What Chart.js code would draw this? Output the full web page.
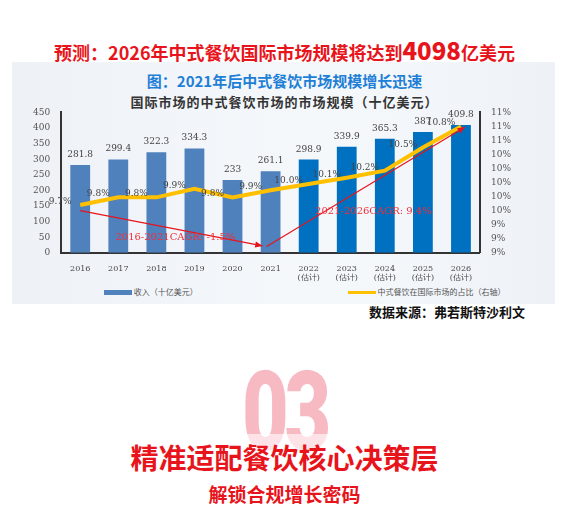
<!DOCTYPE html>
<html><head><meta charset="utf-8">
<script src="https://cdn.jsdelivr.net/npm/chart.js@4"></script>
<style>
body{margin:0;width:569px;height:530px;background:#fff;position:relative;overflow:hidden;font-family:"Noto Sans CJK SC",sans-serif}
.abs{position:absolute}
#panel{left:12px;top:62px;width:543px;height:242px;background:linear-gradient(90deg,#eef2f7,#f5f8fb 60%,#eef2f7)}
#t1{left:0;width:569px;top:36px;text-align:center;color:#e8141b;font-weight:bold;font-size:18px;line-height:28px}
#t1 b{font-size:24px}
#t2{left:0;width:569px;top:70px;text-align:center;color:#1e7fd6;font-weight:bold;font-size:15px}
#t3{left:0;width:569px;top:92px;text-align:center;color:#333;font-weight:bold;font-size:13px;letter-spacing:1px}
#src{right:44px;top:302px;font-weight:bold;font-size:13px;color:#111}
#n03{left:0;width:569px;top:352px;text-align:center;font-family:Roboto,sans-serif;font-weight:900;font-size:112px;line-height:120px;background:linear-gradient(#f7b9c2 68%,#fde3e7 68%);-webkit-background-clip:text;color:transparent;transform:scaleX(0.72);letter-spacing:-6px}
#m1{left:0;width:569px;top:437px;text-align:center;color:#e8141b;font-weight:bold;font-size:28px;line-height:40px}
#m2{left:0;width:569px;top:480px;text-align:center;color:#e8141b;font-weight:bold;font-size:19px;line-height:28px}
#leg{left:60px;top:286px;width:470px;font-size:8px;color:#555}
</style></head><body>
<div id="panel" class="abs"></div>
<div id="t1" class="abs">预测：2026年中式餐饮国际市场规模将达到<b>4098</b>亿美元</div>
<div id="t2" class="abs">图：2021年后中式餐饮市场规模增长迅速</div>
<div id="t3" class="abs">国际市场的中式餐饮市场的市场规模（十亿美元）</div>
<div class="abs" style="left:14px;top:104px;width:520px;height:182px"><canvas id="c"></canvas></div>
<div id="leg" class="abs"><span style="display:inline-block;width:28px;height:5px;background:#4f81bd;vertical-align:middle;margin-left:44px"></span> 收入（十亿美元）<span style="display:inline-block;width:28px;height:3px;background:#ffc000;vertical-align:middle;margin-left:150px"></span> 中式餐饮在国际市场的占比（右轴）</div>
<div id="src" class="abs">数据来源：弗若斯特沙利文</div>
<div id="n03" class="abs">03</div>
<div id="m1" class="abs">精准适配餐饮核心决策层</div>
<div id="m2" class="abs">解锁合规增长密码</div>
<script>
const years=['2016','2017','2018','2019','2020','2021',['2022','(估计)'],['2023','(估计)'],['2024','(估计)'],['2025','(估计)'],['2026','(估计)']];
const revenue=[281.8,299.4,322.3,334.3,233,261.1,298.9,339.9,365.3,387,409.8];
const share=[9.68,9.79,9.79,9.91,9.79,9.89,9.98,10.07,10.17,10.5,10.8];
const shareLabels=['9.7%','9.8%','9.8%','9.9%','9.8%','9.9%','10.0%','10.1%','10.2%','10.5%','10.8%'];
const barColors=revenue.map((v,i)=>i<6?'#4f81bd':'#0070c0');
const serif='"DejaVu Serif",serif';
const labels={id:'labels',afterDatasetsDraw(ch){
 const c=ch.ctx;c.save();c.font='9px '+serif;c.fillStyle='#444';c.textAlign='center';
 ch.getDatasetMeta(0).data.forEach((b,i)=>c.fillText(String(revenue[i]),b.x,b.y-8));
 ch.getDatasetMeta(1).data.forEach((p,i)=>c.fillText(shareLabels[i],p.x-20,p.y-1));
 const x=ch.scales.x,y=ch.scales.y;
 function arrow(x1,y1,x2,y2){c.strokeStyle='#e8141b';c.fillStyle='#e8141b';c.lineWidth=1.2;c.beginPath();c.moveTo(x1,y1);c.lineTo(x2,y2);c.stroke();
  const a=Math.atan2(y2-y1,x2-x1);c.beginPath();c.moveTo(x2,y2);c.lineTo(x2-8*Math.cos(a-0.4),y2-8*Math.sin(a-0.4));c.lineTo(x2-8*Math.cos(a+0.4),y2-8*Math.sin(a+0.4));c.fill();}
 arrow(x.getPixelForValue(0),y.getPixelForValue(135),x.getPixelForValue(5)-8,y.getPixelForValue(22));
 arrow(x.getPixelForValue(5)-4,y.getPixelForValue(20),x.getPixelForValue(10)+4,y.getPixelForValue(403));
 c.font='10px '+serif;c.fillStyle='#f0303a';
 c.fillText('2016-2021CAGR: -1.5%',(x.getPixelForValue(2)+x.getPixelForValue(3))/2,y.getPixelForValue(40));
 c.fillText('2021-2026CAGR: 9.4%',x.getPixelForValue(7.7),y.getPixelForValue(125));
 c.restore();}};
new Chart(document.getElementById('c'),{
 data:{labels:years,datasets:[
  {type:'bar',data:revenue,backgroundColor:barColors,barPercentage:0.52,categoryPercentage:1,yAxisID:'y',order:2},
  {type:'line',data:share,borderColor:'#ffc000',borderWidth:4,pointRadius:0,yAxisID:'y2',order:1,tension:0}]},
 options:{responsive:true,maintainAspectRatio:false,animation:false,
  layout:{padding:{left:16,right:20,top:2}},
  plugins:{legend:{display:false},tooltip:{enabled:false}},
  scales:{
   x:{grid:{display:false},border:{color:'#333',width:2},ticks:{font:{size:8,family:serif},color:'#444',maxRotation:0}},
   y:{min:0,max:450,ticks:{stepSize:50,font:{size:9,family:serif},color:'#555'},grid:{display:false},border:{color:'#333',width:2}},
   y2:{position:'right',min:9,max:11,ticks:{stepSize:0.2,font:{size:9,family:serif},color:'#555',callback:v=>Math.round(v)+'%'},grid:{display:false},border:{color:'#333',width:2}}
  }},
 plugins:[labels]});
</script>
</body></html>
